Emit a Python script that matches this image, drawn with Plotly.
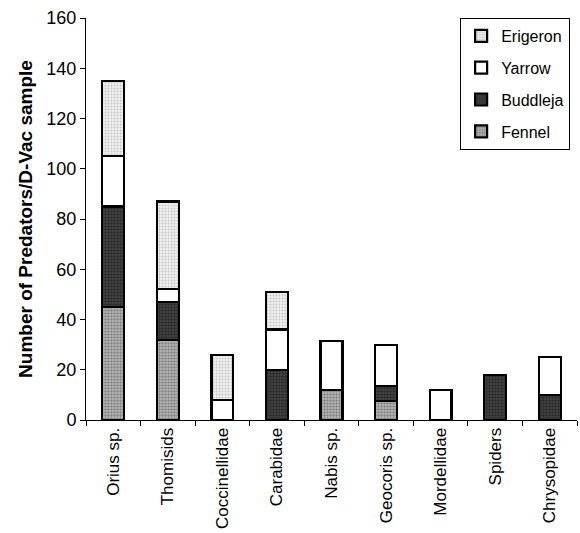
import plotly.graph_objects as go

# Predator groups collected with the D-Vac sampler
categories = ["Orius sp.", "Thomisids", "Coccinellidae", "Carabidae", "Nabis sp.",
              "Geocoris sp.", "Mordellidae", "Spiders", "Chrysopidae"]

# Counts per host plant (stacked from bottom: Fennel, Buddleja, Yarrow, Erigeron)
fennel = [45, 32, 0, 0, 12, 7.5, 0, 0, 0]
buddleja = [40, 15, 0, 20, 0, 6, 0, 18, 10]
yarrow = [20, 5, 8, 16, 19.5, 16.5, 12, 0, 15]
erigeron = [30, 35, 18, 15, 0, 0, 0, 0, 0]

y_ticks = [0, 20, 40, 60, 80, 100, 120, 140, 160]

# name, values, fill pattern, position in legend (top first)
series = [
    ("Fennel", fennel, dict(bgcolor="#bdbdbd", fgcolor="#4a4a4a", shape=".", size=3, solidity=0.5), 4),
    ("Buddleja", buddleja, dict(bgcolor="#4a4a4a", fgcolor="#0a0a0a", shape=".", size=3, solidity=0.6), 3),
    ("Yarrow", yarrow, None, 2),
    ("Erigeron", erigeron, dict(bgcolor="#efefef", fgcolor="#9a9a9a", shape=".", size=3, solidity=0.3), 1),
]

font_family = "Liberation Sans, Arial, sans-serif"

fig = go.Figure()
for name, vals, pat, rank in series:
    marker = dict(color="white", line=dict(color="black", width=2.2))
    if pat is not None:
        marker["pattern"] = pat
    fig.add_trace(go.Bar(
        x=categories, y=vals, name=name, legendgroup=name, legendrank=rank,
        marker=marker,
    ))

fig.update_layout(
    barmode="stack",
    bargap=0.6,
    width=580, height=533,
    margin=dict(l=86, r=3, t=18, b=113),
    paper_bgcolor="white", plot_bgcolor="white",
    font=dict(family=font_family, size=16, color="black"),
    legend=dict(
        x=0.986, y=1.0, xanchor="right", yanchor="top",
        traceorder="grouped", tracegroupgap=8,
        bordercolor="black", borderwidth=1, bgcolor="white",
        font=dict(family=font_family, size=16),
    ),
    showlegend=True,
)
fig.update_yaxes(
    range=[0, 160], tickvals=y_ticks, showgrid=False, zeroline=False,
    showline=True, linecolor="black", linewidth=1,
    ticks="outside", ticklen=5, tickcolor="black",
    tickfont=dict(family=font_family, size=18),
    title=dict(text="<b>Number of Predators/D-Vac sample</b>", standoff=8,
               font=dict(family=font_family, size=19, color="black")),
)
fig.update_xaxes(
    showgrid=False, showline=True, linecolor="black", linewidth=1,
    ticks="outside", ticklen=5, tickcolor="black", tickson="boundaries",
    tickangle=-90, tickfont=dict(family=font_family, size=17),
)

fig.write_html("out.html")
